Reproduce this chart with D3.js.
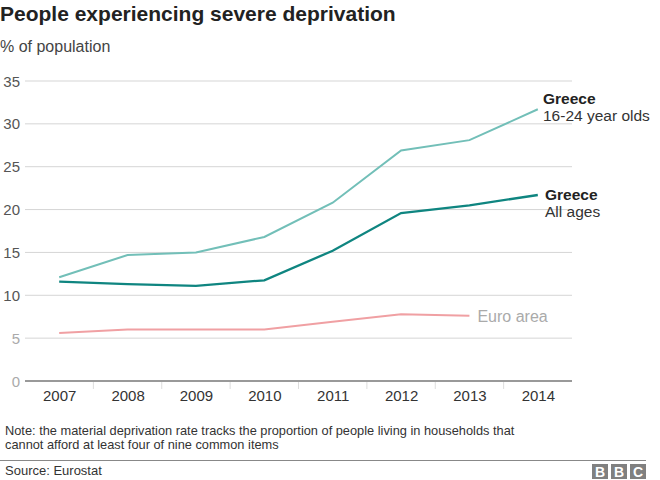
<!DOCTYPE html>
<html><head><meta charset="utf-8">
<script src="https://cdn.jsdelivr.net/npm/d3@7"></script>
<style>
body{margin:0;background:#fff;}
svg{font-family:"Liberation Sans",Arial,Helvetica,sans-serif;}
</style></head>
<body><svg id="c" width="660" height="480"></svg>
<script>
const years = ["2007","2008","2009","2010","2011","2012","2013","2014"];
const youth = [12.1, 14.7, 15.0, 16.8, 20.8, 26.9, 28.1, 31.7];
const allAges = [11.6, 11.3, 11.1, 11.75, 15.2, 19.6, 20.5, 21.7];
const euro = [5.6, 6.0, 6.0, 6.0, 6.9, 7.8, 7.6];
const yTicks = [0, 5, 10, 15, 20, 25, 30, 35];

const svg = d3.select("#c");
const pLeft = 25, pRight = 572, pTop = 81, pBottom = 381;
const x = d3.scalePoint().domain(years).range([pLeft, pRight]).padding(0.5);
const y = d3.scaleLinear().domain([0, 35]).range([pBottom, pTop]);

svg.append("text").attr("x", 0).attr("y", 21).attr("font-size", 21).attr("font-weight", "bold").attr("fill", "#222").text("People experiencing severe deprivation");
svg.append("text").attr("x", 0).attr("y", 52).attr("font-size", 16).attr("fill", "#444").text("% of population");

// grid
const g = svg.append("g");
g.selectAll("line.grid").data(yTicks.filter(d => d > 0)).enter().append("line")
  .attr("x1", pLeft).attr("x2", pRight).attr("y1", d => y(d)).attr("y2", d => y(d))
  .attr("stroke", "#d5d5d5").attr("stroke-width", 1);
g.selectAll("text.yl").data(yTicks).enter().append("text")
  .attr("x", 20).attr("y", d => y(d) + 5.5).attr("text-anchor", "end").attr("font-size", 15)
  .attr("fill", d => d <= 5 ? "#aaa" : "#555").text(d => d);

// x axis
const xAxis = d3.axisBottom(x).tickSize(0).tickPadding(9);
const ax = svg.append("g").attr("transform", `translate(0,${pBottom})`).call(xAxis);
ax.select(".domain").remove();
ax.selectAll("text").attr("font-size", 15).attr("fill", "#333").attr("font-family", "Liberation Sans,Arial,sans-serif");
svg.append("line").attr("x1", pLeft).attr("x2", pRight).attr("y1", pBottom).attr("y2", pBottom).attr("stroke", "#999").attr("stroke-width", 2);
const step = x.step();
svg.selectAll("line.sep").data(years.slice(1)).enter().append("line")
  .attr("x1", d => x(d) - step / 2).attr("x2", d => x(d) - step / 2)
  .attr("y1", pBottom + 1).attr("y2", pBottom + 8).attr("stroke", "#ddd");

const line = d3.line().x((d, i) => x(years[i])).y(d => y(d));
svg.append("path").datum(euro).attr("d", line).attr("fill", "none").attr("stroke", "#f0a0a3").attr("stroke-width", 2);
svg.append("path").datum(youth).attr("d", line).attr("fill", "none").attr("stroke", "#72bfb8").attr("stroke-width", 2);
svg.append("path").datum(allAges).attr("d", line).attr("fill", "none").attr("stroke", "#0f8580").attr("stroke-width", 2.3);

// labels
function lbl(xx, yy, t1, t2) {
  svg.append("text").attr("x", xx).attr("y", yy).attr("font-size", 15.5).attr("font-weight", "bold").attr("fill", "#222").text(t1);
  svg.append("text").attr("x", xx).attr("y", yy + 17).attr("font-size", 15.5).attr("fill", "#333").text(t2);
}
lbl(543, 104, "Greece", "16-24 year olds");
lbl(545, 200, "Greece", "All ages");
svg.append("text").attr("x", x("2013") + 8).attr("y", y(euro[6]) + 6).attr("font-size", 16).attr("fill", "#aaa").text("Euro area");

// footer
svg.append("text").attr("x", 5).attr("y", 435).attr("font-size", 12.8).attr("fill", "#333").text("Note: the material deprivation rate tracks the proportion of people living in households that");
svg.append("text").attr("x", 5).attr("y", 449).attr("font-size", 12.8).attr("fill", "#333").text("cannot afford at least four of nine common items");
svg.append("line").attr("x1", 0).attr("x2", 646).attr("y1", 460.5).attr("y2", 460.5).attr("stroke", "#888").attr("stroke-width", 1);
svg.append("text").attr("x", 5).attr("y", 475).attr("font-size", 13).attr("fill", "#333").text("Source: Eurostat");
["B","B","C"].forEach((l, i) => {
  const bx = 592 + i * 19;
  svg.append("rect").attr("x", bx).attr("y", 464).attr("width", 16).attr("height", 15).attr("fill", "#808080");
  svg.append("text").attr("x", bx + 8).attr("y", 477).attr("text-anchor", "middle").attr("font-size", 14).attr("font-weight", "bold").attr("fill", "#fff").text(l);
});
</script></body></html>
